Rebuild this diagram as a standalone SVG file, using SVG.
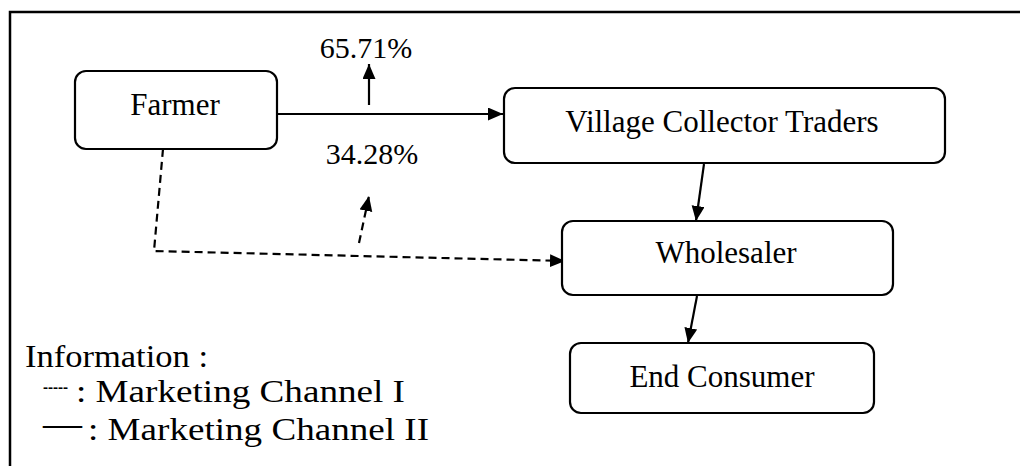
<svg xmlns="http://www.w3.org/2000/svg" width="1020" height="466" viewBox="0 0 1020 466">
<style>
.box{fill:#fff;stroke:#000;stroke-width:2.2}
.lbl{font-family:"Liberation Serif","Times New Roman",serif;font-size:31px;fill:#000;text-anchor:middle}
.pct{font-family:"Liberation Serif","Times New Roman",serif;font-size:30px;fill:#000;text-anchor:middle}
.leg{font-family:"Liberation Serif","Times New Roman",serif;font-size:31px;fill:#000}
.solid{fill:none;stroke:#000;stroke-width:2.2}
.dash{fill:none;stroke:#000;stroke-width:2.2;stroke-dasharray:8,5}
</style>
<defs>
<marker id="ah" markerUnits="userSpaceOnUse" markerWidth="16" markerHeight="14" refX="15" refY="6.5" orient="auto">
<path d="M0,0 L15,6.5 L0,13 z" fill="#000" stroke="none"/>
</marker>
</defs>
<g id="frame">
<path d="M10,466 L10,12 L1020,12" fill="none" stroke="#000" stroke-width="2.5"/>
</g>
<g id="connectors">
<line class="solid" x1="277" y1="114" x2="503" y2="114" marker-end="url(#ah)"/>
<line class="solid" x1="369" y1="105" x2="369" y2="64" marker-end="url(#ah)"/>
<path class="dash" d="M163,149 L154,251 L565,261" marker-end="url(#ah)"/>
<line class="dash" x1="359" y1="243" x2="369" y2="196" marker-end="url(#ah)"/>
<line class="solid" x1="704" y1="164" x2="696" y2="221" marker-end="url(#ah)"/>
<line class="solid" x1="697" y1="296" x2="688" y2="343" marker-end="url(#ah)"/>
</g>
<g id="farmer">
<rect class="box" x="75" y="71" width="202" height="78" rx="11"/>
<text class="lbl" x="175" y="115">Farmer</text>
</g>
<g id="village-collector-traders">
<rect class="box" x="504" y="88" width="441" height="75" rx="11"/>
<text class="lbl" x="722" y="132">Village Collector Traders</text>
</g>
<g id="wholesaler">
<rect class="box" x="562" y="221" width="331" height="74" rx="11"/>
<text class="lbl" x="726" y="263">Wholesaler</text>
</g>
<g id="end-consumer">
<rect class="box" x="570" y="343" width="304" height="70" rx="11"/>
<text class="lbl" x="722" y="387">End Consumer</text>
</g>
<g id="labels">
<text class="pct" x="366" y="58">65.71%</text>
<text class="pct" x="372" y="164">34.28%</text>
</g>
<g id="legend">
<text class="leg" x="25" y="367" textLength="183" lengthAdjust="spacingAndGlyphs">Information :</text>
<text class="leg" x="43" y="393" style="font-size:20px" textLength="25" lengthAdjust="spacingAndGlyphs">-----</text>
<text class="leg" x="76" y="402" textLength="329" lengthAdjust="spacingAndGlyphs">: Marketing Channel I</text>
<text class="leg" x="43" y="436" style="font-size:39px" textLength="39" lengthAdjust="spacingAndGlyphs">—</text>
<text class="leg" x="88" y="440" textLength="341" lengthAdjust="spacingAndGlyphs">: Marketing Channel II</text>
</g>
</svg>
